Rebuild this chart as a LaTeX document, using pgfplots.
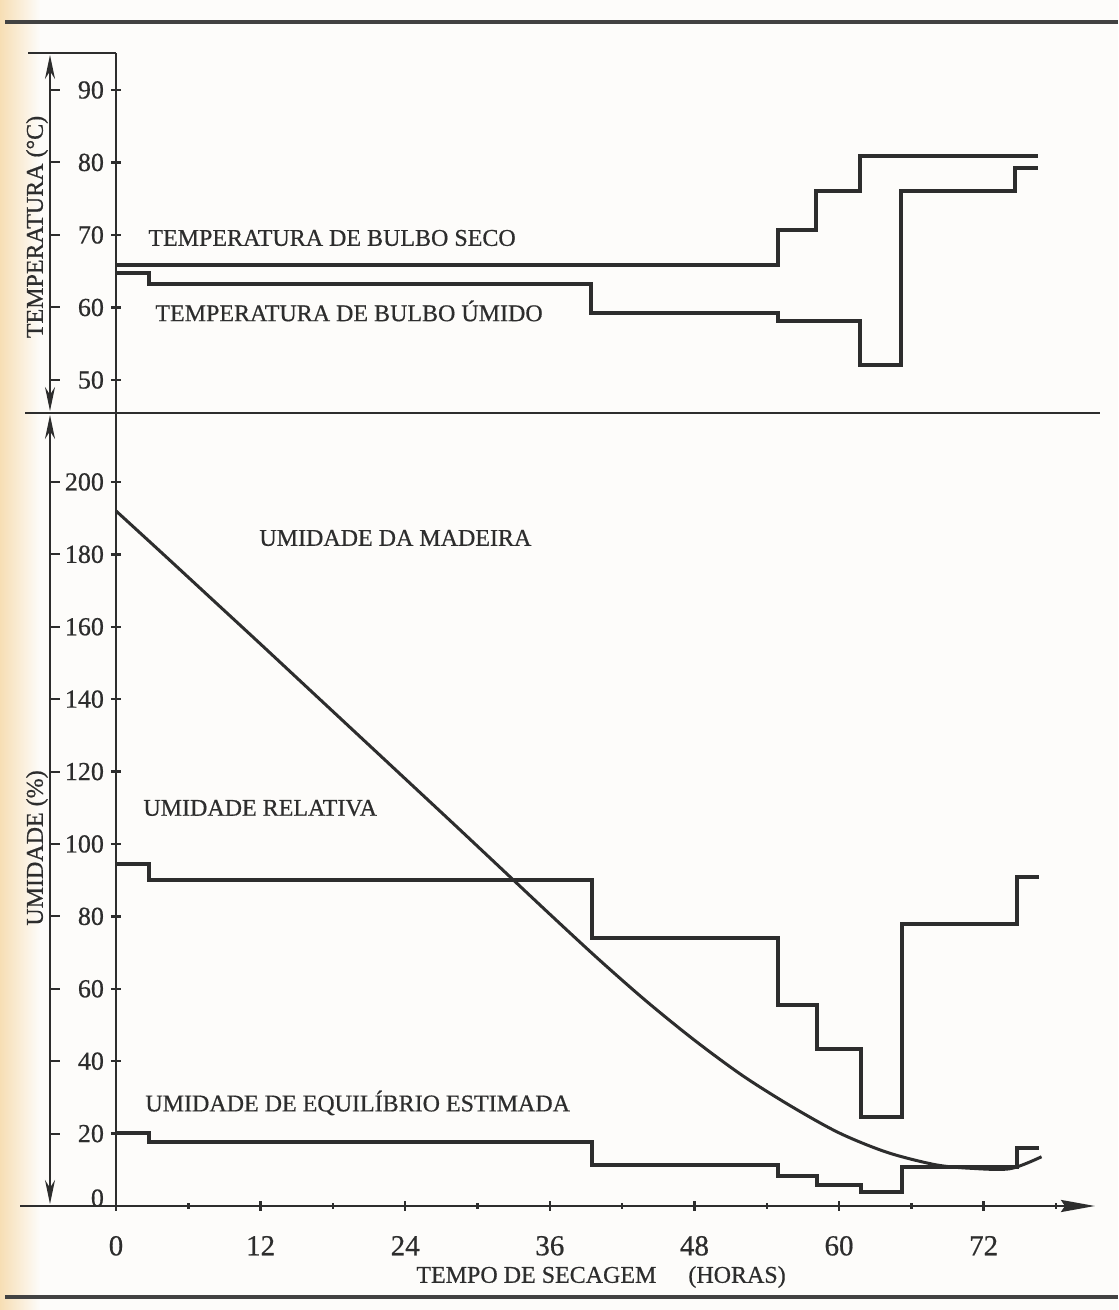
\documentclass[border=0pt]{standalone}
\usepackage{fontspec}
\setmainfont{Liberation Serif}[FakeBold=0.6]
\usepackage{pgfplots}
\pgfplotsset{compat=1.18}
\usetikzlibrary{arrows.meta}
\definecolor{ink}{RGB}{45,45,45}
\definecolor{paper}{RGB}{253,252,250}
\definecolor{tanedge}{RGB}{247,222,180}
\newcommand\lab{\fontsize{12}{14}\selectfont}
\pgfplotsset{
  panel/.style={
    scale only axis, width=489.5pt, xmin=0, xmax=81.24, clip=false,
    axis line style={ink, line width=1.4pt},
    tick style={ink, line width=1.2pt},
    tick align=outside, major tick length=5pt, minor tick length=3pt,
    /pgf/number format/assume math mode=true,
    ticklabel style={font=\fontsize{13}{15}\selectfont, text=ink},
  },
  stepline/.style={ink, line width=2pt, const plot, no marks},
}
\begin{document}
\begin{tikzpicture}[x=0.5pt,y=0.5pt]
\path[use as bounding box] (0,0) rectangle (1118,1310);
\fill[paper] (0,0) rectangle (1118,1310);
\shade[left color=tanedge, right color=paper] (0,0) rectangle (40,1310);

% ---------- top panel: temperature ----------
\begin{axis}[panel, at={(58pt,448.5pt)}, anchor=south west, height=180pt,
  ymin=45.45, ymax=95.1, axis x line=none, axis y line=left,
  y axis line style={-}, ytick={50,60,...,90}, xtick=\empty]
\addplot[stepline] coordinates {(0,65.9)(54.9,70.7)(58.1,76.0)(61.7,80.9)(76.5,80.9)};
\addplot[stepline] coordinates {(0,64.7)(2.7,63.2)(39.4,59.3)(54.9,58.1)(61.7,52.0)(65.1,76.0)(74.6,79.3)(76.5,79.3)};
\end{axis}

% ---------- bottom panel: humidity ----------
\begin{axis}[panel, at={(58pt,52pt)}, anchor=south west, height=396.6pt,
  ymin=0, ymax=219.1, axis x line=bottom, axis y line=left,
  x axis line style={-{Stealth[length=17pt,width=6pt,inset=2pt]}},
  y axis line style={-},
  xtick={0,12,...,72}, minor xtick={6,18,...,78},
  ytick={0,20,...,200},
  yticklabels={\raisebox{8pt}{0},20,40,60,80,100,120,140,160,180,200},
  xticklabel style={font=\fontsize{14.5}{16}\selectfont, yshift=-9pt}]
% relative humidity
\addplot[stepline] coordinates {(0,94.5)(2.7,90.1)(39.5,74.1)(54.9,55.4)(58.2,43.4)(61.8,24.6)(65.2,77.9)(74.8,91.0)(76.6,91.0)};
% equilibrium moisture content
\addplot[stepline] coordinates {(0,20.2)(2.7,17.8)(39.5,11.2)(54.9,8.2)(58.2,5.8)(61.8,4.0)(65.2,10.9)(74.8,16.0)(76.6,16.0)};
% wood moisture content
\addplot[ink, line width=1.5pt, smooth, tension=0.5] coordinates {
(0,192)(4,179.8)(8,167.5)(12,155.2)(16,142.8)(20,130.4)(24,118.0)(28,105.6)(32,93.1)(36,80.6)(40,68.3)(44,56.6)(48,45.8)(52,36.0)(56,27.6)(60,20.2)(64,14.8)(68,11.4)(71,10.4)(74.2,10.3)(76.8,13.6)};
\end{axis}

% ---------- frame, rules, dimension lines ----------
\draw[ink, line width=1.4pt] (20,104) -- (116,104);
\draw[ink, line width=1.4pt] (25,897) -- (1100,897);
\draw[ink, line width=1.4pt] (28,1257) -- (116,1257);
\draw[ink!90, line width=1.6pt] (5,1288) -- (1118,1288);
\draw[ink!90, line width=1.6pt] (5,13) -- (1118,13);
\draw[ink, line width=1pt, {Stealth[length=12pt,width=5pt]}-{Stealth[length=12pt,width=5pt]}] (50,1255) -- (50,899);
\draw[ink, line width=1pt, {Stealth[length=12pt,width=5pt]}-{Stealth[length=12pt,width=5pt]}] (50,895) -- (50,106);
\foreach \v in {50,60,...,90} \draw[ink, line width=1pt] (51,{930+7.25*(\v-50)}) -- (60,{930+7.25*(\v-50)});
\foreach \v in {20,40,...,200} \draw[ink, line width=1pt] (51,{104+3.62*\v}) -- (60,{104+3.62*\v});

% ---------- texts ----------
\node[rotate=90, text=ink, font=\lab] at (37,1083) {TEMPERATURA (°C)};
\node[rotate=90, text=ink, font=\lab] at (37,462) {UMIDADE (\%)};
\node[anchor=west, text=ink, font=\lab, inner sep=0pt] at (148,1072) {TEMPERATURA DE BULBO SECO};
\node[anchor=west, text=ink, font=\lab, inner sep=0pt] at (155,999) {TEMPERATURA DE BULBO ÚMIDO};
\node[anchor=west, text=ink, font=\lab, inner sep=0pt] at (259,772) {UMIDADE DA MADEIRA};
\node[anchor=west, text=ink, font=\lab, inner sep=0pt] at (143,502) {UMIDADE RELATIVA};
\node[anchor=west, text=ink, font=\lab, inner sep=0pt] at (145,207) {UMIDADE DE EQUILÍBRIO ESTIMADA};
\node[anchor=west, text=ink, font=\lab, inner sep=0pt] at (416,33) {TEMPO DE SECAGEM\hspace{16pt}(HORAS)};
\end{tikzpicture}
\end{document}
